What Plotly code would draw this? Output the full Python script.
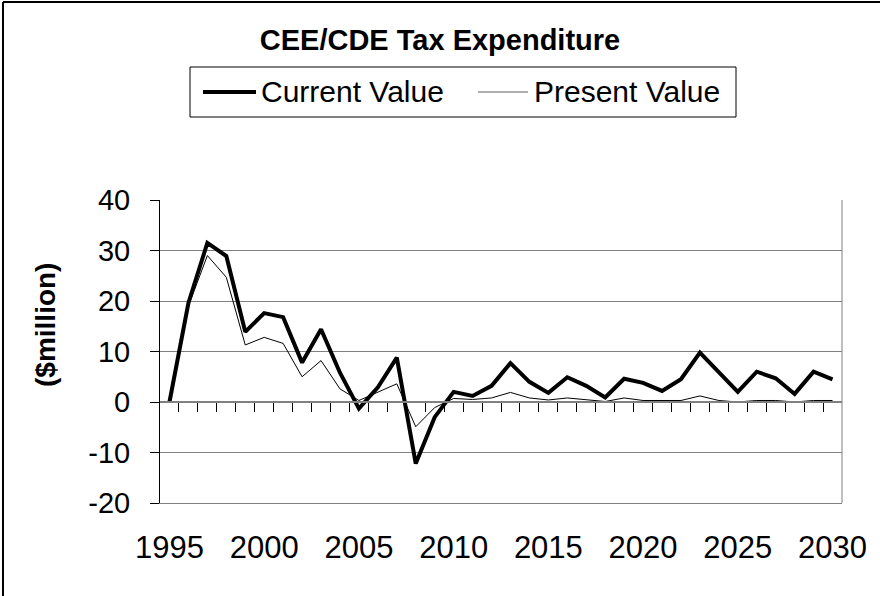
import plotly.graph_objects as go

years = list(range(1995, 2031))

current_value = [0, 19.6, 31.5, 28.9, 13.9, 17.6, 16.8, 7.8, 14.4, 5.8,
                 -1.3, 2.9, 8.8, -12.2, -3.0, 2.0, 1.2, 3.2, 7.7, 4.0,
                 1.8, 4.9, 3.2, 0.9, 4.6, 3.8, 2.2, 4.5, 9.8, 5.8,
                 2.0, 6.0, 4.7, 1.6, 6.0, 4.5]

present_value = [0, 19.0, 29.0, 24.7, 11.3, 12.8, 11.6, 5.0, 8.2, 2.6,
                 0.3, 2.0, 3.6, -4.9, -1.1, 0.7, 0.5, 0.8, 1.9, 0.8,
                 0.4, 0.8, 0.4, 0.1, 0.8, 0.3, 0.3, 0.3, 1.2, 0.3,
                 0.0, 0.3, 0.3, 0.0, 0.3, 0.3]

y_ticks = [-20, -10, 0, 10, 20, 30, 40]
y_tick_text = ["-20", "-10", "0", "10", "20", "30", "40"]
x_labels = [1995, 2000, 2005, 2010, 2015, 2020, 2025, 2030]

font_family = "Liberation Sans, Arial, sans-serif"

# plot area in pixels, used to place paper-coord items
PX0, PX1, PY0, PY1 = 160, 842, 200, 503


def px(x):
    return (x - PX0) / (PX1 - PX0)


def py(y):
    return (PY1 - y) / (PY1 - PY0)


fig = go.Figure()

fig.add_trace(go.Scatter(name="Current Value", x=years, y=current_value, mode="lines",
                         line=dict(color="black", width=4)))
fig.add_trace(go.Scatter(name="Present Value", x=years, y=present_value, mode="lines",
                         line=dict(color="black", width=1)))

# category boundaries, drawn as ticks on the zero line
boundaries = [y + 0.5 for y in years[:-1]]

# dummy trace so xaxis2 is drawn
fig.add_trace(go.Scatter(x=[years[0]], y=[None], xaxis="x2", showlegend=False,
                         hoverinfo="skip"))

fig.update_layout(
    width=880,
    height=596,
    margin=dict(l=PX0, r=880 - PX1, t=PY0, b=596 - PY1),
    paper_bgcolor="white",
    plot_bgcolor="white",
    font=dict(family=font_family, size=30, color="black"),
    title=dict(text="<b>CEE/CDE Tax Expenditure</b>", x=440 / 880, xanchor="center",
               y=1 - 40 / 596, yanchor="middle", font=dict(size=29, color="black")),
    showlegend=False,
    xaxis=dict(range=[1994.5, 2030.5], tickvals=x_labels, ticks="", showgrid=False,
               showline=True, linecolor="#808080", linewidth=1, zeroline=False,
               ticklabelstandoff=17, tickfont=dict(size=31)),
    xaxis2=dict(range=[1994.5, 2030.5], overlaying="x", anchor="free", position=1 / 3,
                side="bottom", tickvals=boundaries, ticks="outside", ticklen=9,
                tickcolor="black", tickwidth=1, showticklabels=False, showgrid=False,
                showline=True, linecolor="#808080", linewidth=2, zeroline=False),
    yaxis=dict(range=[-20, 40], tickvals=y_ticks, ticktext=y_tick_text, ticks="outside",
               ticklen=9, tickcolor="black", showline=True, linecolor="black", linewidth=1,
               showgrid=True, gridcolor="#808080", gridwidth=1, zeroline=False,
               ticklabelstandoff=14, tickfont=dict(size=29)),
)

fig.add_annotation(text="<b>($million)</b>", xref="paper", yref="paper",
                   x=px(45), y=py(325), xanchor="center", yanchor="middle",
                   textangle=-90, showarrow=False, font=dict(size=28, color="black"))

# legend box drawn by hand so the line samples have the right length
fig.add_shape(type="rect", xref="paper", yref="paper",
              x0=px(190), x1=px(736), y0=py(67), y1=py(117),
              line=dict(color="black", width=1), fillcolor="white")
fig.add_shape(type="line", xref="paper", yref="paper",
              x0=px(203), x1=px(256), y0=py(92), y1=py(92),
              line=dict(color="black", width=4))
fig.add_shape(type="line", xref="paper", yref="paper",
              x0=px(478), x1=px(528), y0=py(92), y1=py(92),
              line=dict(color="#606060", width=1))
fig.add_annotation(text="Current Value", xref="paper", yref="paper",
                   x=px(259), y=py(92), xanchor="left", yanchor="middle",
                   showarrow=False, font=dict(size=30, color="black"))
fig.add_annotation(text="Present Value", xref="paper", yref="paper",
                   x=px(532), y=py(92), xanchor="left", yanchor="middle",
                   showarrow=False, font=dict(size=30, color="black"))

# plot area right edge, and the outer chart frame
fig.add_shape(type="line", xref="paper", yref="paper", x0=1, x1=1, y0=0, y1=1,
              line=dict(color="#808080", width=1))
fig.add_shape(type="line", xref="paper", yref="paper", x0=px(3), x1=px(900),
              y0=py(2), y1=py(2), line=dict(color="black", width=2))
fig.add_shape(type="line", xref="paper", yref="paper", x0=px(3), x1=px(3),
              y0=py(2), y1=py(620), line=dict(color="black", width=2))

fig.write_html("out.html", config={"displayModeBar": False},
               post_script="document.body.style.margin = '0';")
